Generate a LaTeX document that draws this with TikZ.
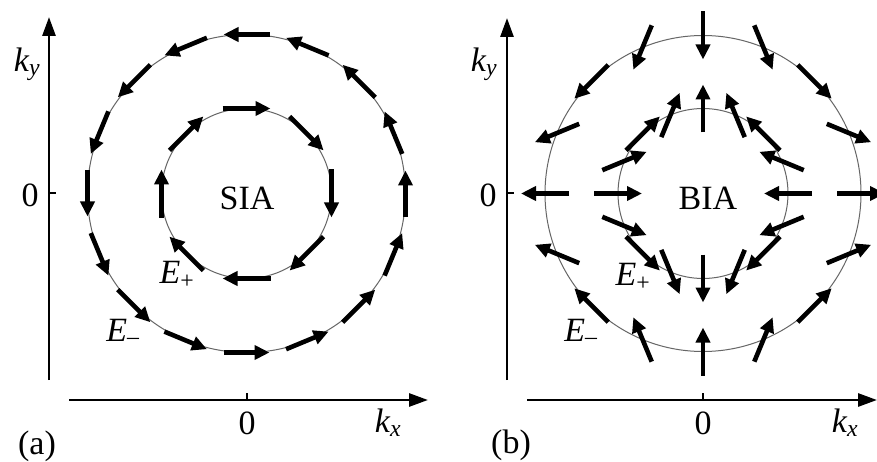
\documentclass[tikz,border=0pt]{standalone}
\usepackage{fontspec}
\setmainfont{Liberation Serif}
\usetikzlibrary{arrows.meta,calc}
\begin{document}
\begin{tikzpicture}[x=1pt,y=1pt,
  spin/.style={line width=4.6pt, -{Triangle[length=15pt,width=14pt]}},
  axis/.style={line width=2.8pt, -{Triangle[length=19pt,width=13pt]}},
  tick/.style={line width=2pt},
  band/.style={line width=1pt, black!60},
  lbl/.style={font=\fontsize{34}{38}\selectfont, inner sep=0pt}]
\useasboundingbox[fill=white] (0,0) rectangle (877,461);
\coordinate (Ca) at (246.5,267.5);
\coordinate (Cb) at (703,267.5);
% ---------------- panel (a) ----------------
\draw[band] (Ca) circle (159);
\draw[band] (Ca) circle (85);
\foreach \t in {0,22.5,...,337.5}{
  \draw[spin] ($(Ca)+(\t:159)+(\t-90:23)$) -- ($(Ca)+(\t:159)+(\t+90:23)$);
}
\foreach \t in {0,45,...,315}{
  \draw[spin] ($(Ca)+(\t:85)+(\t+90:24)$) -- ($(Ca)+(\t:85)+(\t-90:24)$);
}
\coordinate (ay0) at (49,81);
\coordinate (ay1) at (49,444);
\coordinate (ax0) at (69,61);
\coordinate (ax1) at (428,61);
\draw[axis] (ay0) -- (ay1);
\draw[axis] (ax0) -- (ax1);
\coordinate (aty) at (49,267.5);
\coordinate (atx) at (246.5,61);
\draw[tick] (aty) -- ++(7,0);
\draw[tick] (atx) -- ++(0,7);
\node[lbl] (kya) at (27,397) {\textit{k\textsubscript{y}}};
\node[lbl] (zya) at (30,266) {0};
\node[lbl] (zxa) at (247,38) {0};
\node[lbl] (kxa) at (388,38) {\textit{k\textsubscript{x}}};
\node[lbl] (pa) at (37,15) {(a)};
\node[lbl] (sia) at (247,263) {SIA};
\node[lbl] (epa) at (177,186) {\textit{E}\textsubscript{+}};
\node[lbl] (ema) at (123,129) {\textit{E}\textsubscript{--}};
% ---------------- panel (b) ----------------
\draw[band] (Cb) circle (158);
\draw[band] (Cb) circle (85);
\foreach \t in {0,22.5,...,337.5}{
  \draw[spin] ($(Cb)+(\t:158)+(180-\t:24)$) -- ($(Cb)+(\t:158)+(-\t:24)$);
  \draw[spin] ($(Cb)+(\t:85)+(-\t:24)$) -- ($(Cb)+(\t:85)+(180-\t:24)$);
}
\coordinate (by0) at (507,81);
\coordinate (by1) at (507,443);
\coordinate (bx0) at (527,61);
\coordinate (bx1) at (877,61);
\draw[axis] (by0) -- (by1);
\draw[axis] (bx0) -- (bx1);
\coordinate (bty) at (507,267.5);
\coordinate (btx) at (703,61);
\draw[tick] (bty) -- ++(7,0);
\draw[tick] (btx) -- ++(0,7);
\node[lbl] (kyb) at (484,397) {\textit{k\textsubscript{y}}};
\node[lbl] (zyb) at (488,266) {0};
\node[lbl] (zxb) at (703,38) {0};
\node[lbl] (kxb) at (845,38) {\textit{k\textsubscript{x}}};
\node[lbl] (pb) at (511,16) {(b)};
\node[lbl] (bia) at (708,263) {BIA};
\node[lbl] (epb) at (633,184) {\textit{E}\textsubscript{+}};
\node[lbl] (emb) at (581,129) {\textit{E}\textsubscript{--}};
\end{tikzpicture}
\end{document}
